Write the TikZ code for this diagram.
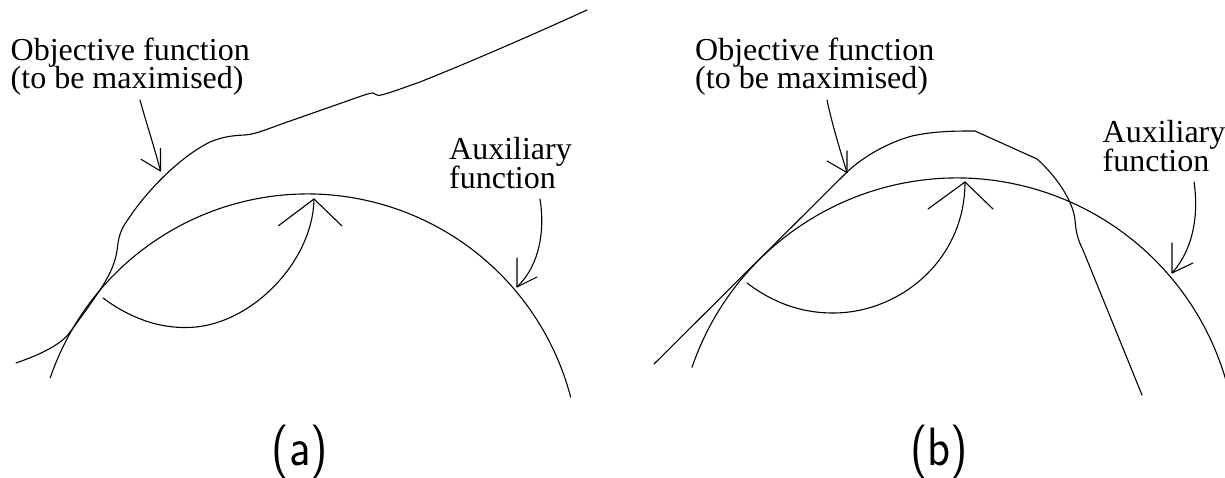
\documentclass[tikz,border=0pt]{standalone}
\usepackage{fontspec}
\setmainfont{Liberation Serif}
\usepackage{graphicx}
\tikzset{
  lbl/.style={inner sep=0pt, anchor=base west, font=\fontsize{32}{28}\selectfont},
  panellabel/.style={inner sep=0pt, anchor=base, font=\fontsize{54}{60}\selectfont\sffamily},
  curve/.style={line width=1.1pt, line join=round, line cap=round},
}
\begin{document}
\begin{tikzpicture}[x=1pt,y=-1pt]
\useasboundingbox (0,0) rectangle (1225,478);
\clip (0,0) rectangle (1225,478);

% ---------------- panel (a) ----------------
\node[lbl] (oa1) at (10.5,61) {Objective function};
\node[lbl] (oa2) at (10.5,89) {(to be maximised)};
\node[lbl] (aa1) at (449,159.3) {Auxiliary};
\node[lbl] (aa2) at (449,188.3) {function};

% objective function
\draw[curve] (16,363) .. controls (36,356) and (55,348) .. (67,336)
  .. controls (80,319) and (92,302) .. (102,287)
  .. controls (110,274) and (116,262) .. (117.5,247)
  .. controls (118.5,237) and (121,229) .. (127,221)
  .. controls (145,193) and (178,158) .. (210,142)
  .. controls (222,137) and (232,135.5) .. (245,135)
  .. controls (256,134.5) and (272,127) .. (293,120)
  -- (360,96.5) .. controls (366,94.5) and (370,93) .. (373,93)
  .. controls (375,93.5) and (376,95.5) .. (379,95.5)
  .. controls (390,93) and (400,89) .. (420,82)
  .. controls (470,62) and (530,36) .. (587,10);
% auxiliary function
\draw[curve] (50.2,377.9) arc[start angle=-161.1, end angle=-14.7, radius=272];
% iteration arrow
\coordinate (ta) at (314,199);
\draw[curve] (103,298) .. controls (130,318) and (158,328) .. (187,327.5)
  .. controls (250,327) and (313,262) .. (ta);
\draw[curve] (278.5,225.7) -- (ta) -- (341.7,225.7);
% label arrows
\coordinate (toa) at (160.5,171);
\draw[curve] (140,100) .. controls (146,122) and (154,146) .. (toa);
\draw[curve] (141,159.3) -- (toa) -- (160.5,148.5);
\coordinate (tua) at (517,287);
\draw[curve] (540,199) .. controls (545,230) and (540,265) .. (tua);
\draw[curve] (517,258) -- (tua) -- (537,277);

\node[panellabel] (la) at (300,465) {\scalebox{0.88}[1]{(a)}};

% ---------------- panel (b) ----------------
\node[lbl] (ob1) at (695,61) {Objective function};
\node[lbl] (ob2) at (695,89) {(to be maximised)};
\node[lbl] (ab1) at (1102.5,142.7) {Auxiliary};
\node[lbl] (ab2) at (1102.5,171.7) {function};

% objective function
\draw[curve] (654,364) -- (847,172)
  .. controls (865,155) and (890,142) .. (912,136)
  .. controls (935,131) and (955,131) .. (975,131)
  -- (1037,159)
  .. controls (1055,175) and (1073,200) .. (1075,220)
  .. controls (1076,233) and (1078,240) .. (1083,250)
  -- (1142,395);
% auxiliary function
\draw[curve] (692,367.3) arc[start angle=-161.1, end angle=-11, radius=280];
% iteration arrow
\coordinate (tb) at (965,182);
\draw[curve] (747,283) .. controls (772,302) and (800,313) .. (833,313)
  .. controls (900,313) and (965,260) .. (tb);
\draw[curve] (928,209) -- (tb) -- (993,209);
% label arrows
\coordinate (tob) at (847,172.5);
\draw[curve] (827,100) .. controls (832,124) and (840,150) .. (tob);
\draw[curve] (827,161) -- (tob) -- (847,151);
\coordinate (tub) at (1172,273);
\draw[curve] (1194,182) .. controls (1199,215) and (1193,250) .. (tub);
\draw[curve] (1172,243) -- (tub) -- (1193,263);

\node[panellabel] (lb) at (939,465) {\scalebox{0.88}[1]{(b)}};
\end{tikzpicture}
\end{document}
